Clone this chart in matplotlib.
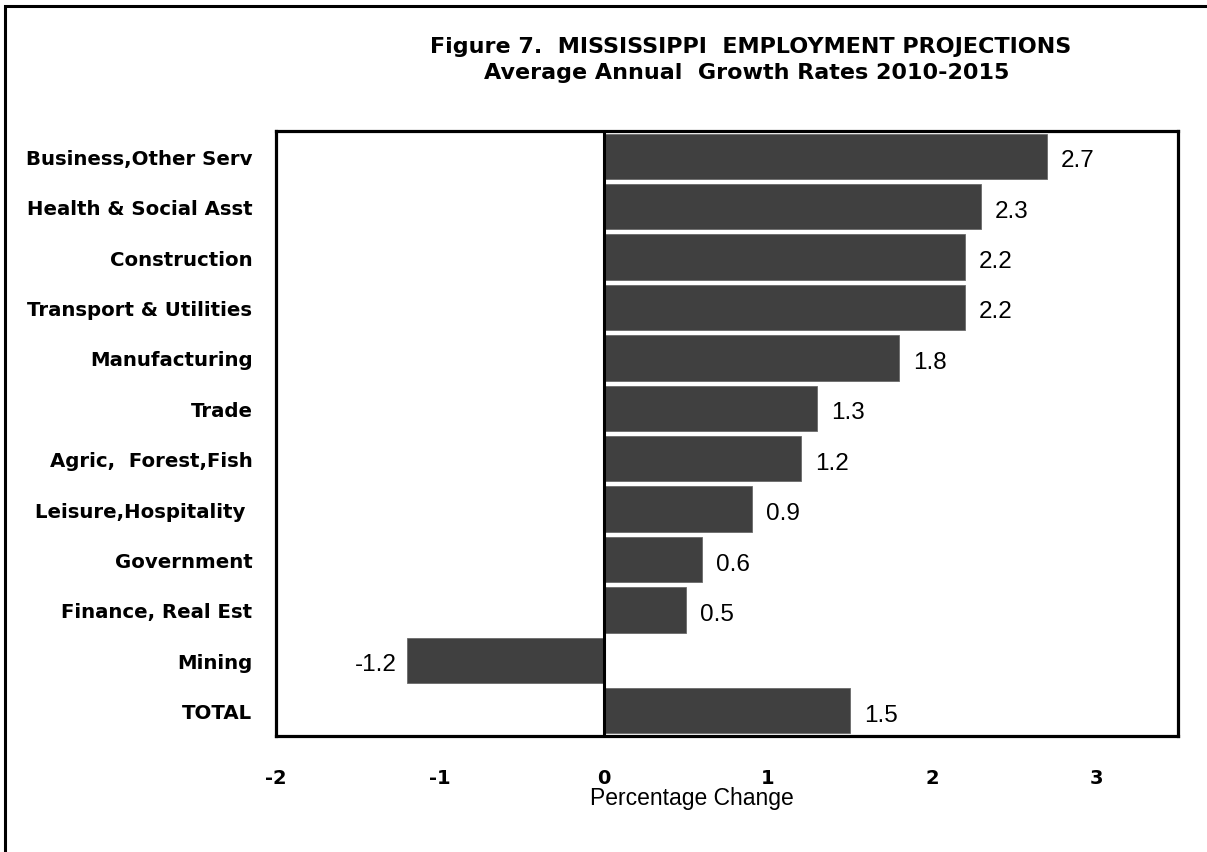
import matplotlib
matplotlib.use("Agg")
import matplotlib.pyplot as plt
from matplotlib.patches import Rectangle

# Sectors (top to bottom) and projected average annual growth rates, %
categories = [
    "Business,Other Serv",
    "Health & Social Asst",
    "Construction",
    "Transport & Utilities",
    "Manufacturing",
    "Trade",
    "Agric,  Forest,Fish",
    "Leisure,Hospitality ",
    "Government",
    "Finance, Real Est",
    "Mining",
    "TOTAL",
]
growth = [2.7, 2.3, 2.2, 2.2, 1.8, 1.3, 1.2, 0.9, 0.6, 0.5, -1.2, 1.5]
x_ticks = [-2, -1, 0, 1, 2, 3]

W, H = 1207, 853
plt.rcParams["font.family"] = ["Liberation Sans", "DejaVu Sans"]
BOLD = ["DejaVu Sans"]

fig = plt.figure(figsize=(W / 100, H / 100), dpi=100)

# outer frame (runs off the right and bottom edges)
fig.patches.append(Rectangle((5 / W, -0.05), 1.2, 1 - 7 / H + 0.05,
                             transform=fig.transFigure, fill=False,
                             edgecolor="black", linewidth=2.2, zorder=0))

ax = fig.add_axes([276 / W, 1 - 737 / H, 902 / W, 605 / H])

n = len(categories)
ypos = list(range(n))
ax.barh(ypos, growth, height=0.9, color="#404040", edgecolor="#6a6a6a",
        linewidth=0.6, zorder=2)
ax.set_ylim(n - 0.5, -0.5)
ax.set_xlim(-2, 3.5)
ax.axvline(0, color="black", linewidth=2.2, zorder=3)

for y, v in zip(ypos, growth):
    if v >= 0:
        ax.annotate(f"{v:.1f}", (v, y), xytext=(14, -4), textcoords="offset pixels",
                    ha="left", va="center", fontsize=17.5, color="black")
    else:
        ax.annotate(f"{v:.1f}", (v, y), xytext=(-10, -4), textcoords="offset pixels",
                    ha="right", va="center", fontsize=17.5, color="black")

for s in ax.spines.values():
    s.set_linewidth(2.3)
    s.set_color("black")

ax.set_yticks(ypos)
ax.set_yticklabels(categories, fontsize=14.2, fontweight="bold", family=BOLD)
ax.tick_params(axis="y", length=0, pad=17)
ax.set_xticks(x_ticks)
ax.set_xticklabels([str(t) for t in x_ticks], fontsize=14, fontweight="bold",
                   family=BOLD)
ax.tick_params(axis="x", length=0, pad=23)

fig.text(692 / W, 1 - 799 / H, "Percentage Change", ha="center", va="center",
         fontsize=16.5)
fig.text(751 / W, 1 - 47 / H, "Figure 7.  MISSISSIPPI  EMPLOYMENT PROJECTIONS",
         ha="center", va="center", fontsize=16, fontweight="bold", family=BOLD)
fig.text(747 / W, 1 - 73 / H, "Average Annual  Growth Rates 2010-2015",
         ha="center", va="center", fontsize=16, fontweight="bold", family=BOLD)

fig.savefig("out.png", dpi=100)
